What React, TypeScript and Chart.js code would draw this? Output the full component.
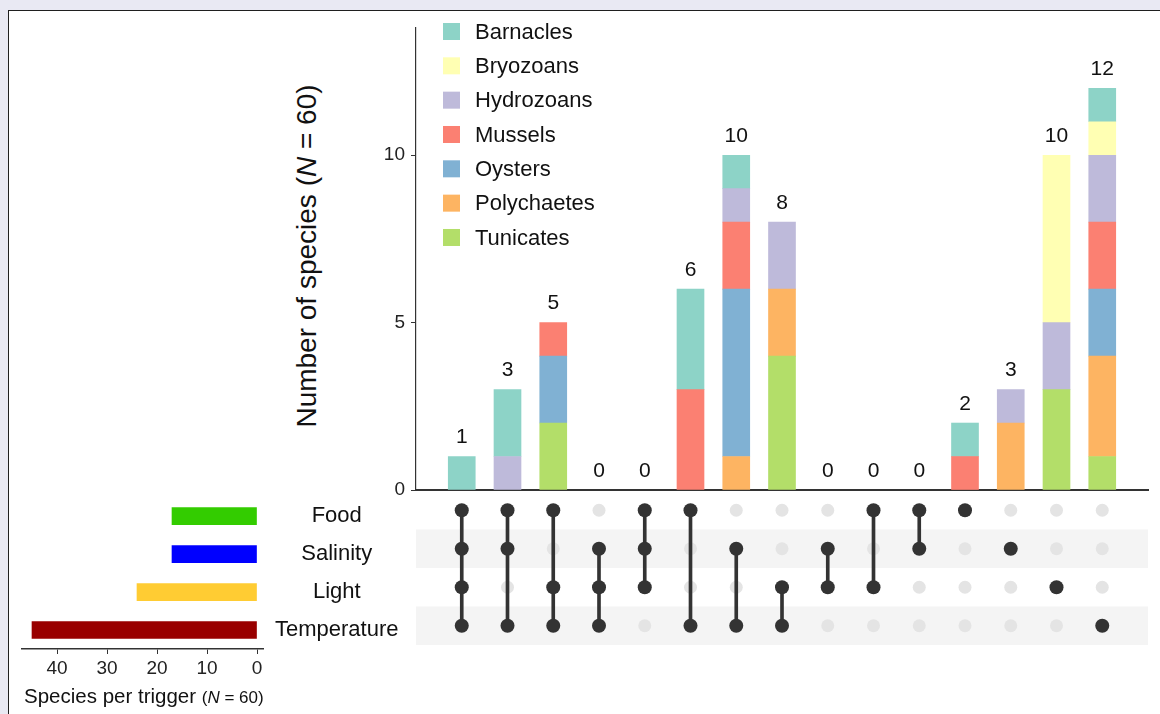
import React, { useEffect, useRef } from 'react';
import { Chart, registerables } from 'chart.js';

Chart.register(...registerables);

const FONT = "'Liberation Sans', Arial, Helvetica, sans-serif";
Chart.defaults.font.family = FONT;
Chart.defaults.color = '#1a1a1a';

// ---- data ----
const species = ['Barnacles', 'Bryozoans', 'Hydrozoans', 'Mussels', 'Oysters', 'Polychaetes', 'Tunicates'];
const speciesColors = ['#8DD3C7', '#FFFFB3', '#BEBADA', '#FB8072', '#80B1D3', '#FDB462', '#B3DE69'];

// species counts per intersection column (15 columns, left to right)
const barnacles = [1, 2, 0, 0, 0, 3, 1, 0, 0, 0, 0, 1, 0, 0, 1];
const bryozoans = [0, 0, 0, 0, 0, 0, 0, 0, 0, 0, 0, 0, 0, 5, 1];
const hydrozoans = [0, 1, 0, 0, 0, 0, 1, 2, 0, 0, 0, 0, 1, 2, 2];
const mussels = [0, 0, 1, 0, 0, 3, 2, 0, 0, 0, 0, 1, 0, 0, 2];
const oysters = [0, 0, 2, 0, 0, 0, 5, 0, 0, 0, 0, 0, 0, 0, 2];
const polychaetes = [0, 0, 0, 0, 0, 0, 1, 2, 0, 0, 0, 0, 2, 0, 3];
const tunicates = [0, 0, 2, 0, 0, 0, 0, 4, 0, 0, 0, 0, 0, 3, 1];
const speciesSeries = [barnacles, bryozoans, hydrozoans, mussels, oysters, polychaetes, tunicates];

const triggers = ['Food', 'Salinity', 'Light', 'Temperature'];
const triggerSizes = [17, 17, 24, 45];
const triggerColors = ['#33CC00', '#0000FF', '#FFCC33', '#990000'];

const intersections = [
  ['Food', 'Salinity', 'Light', 'Temperature'],
  ['Food', 'Salinity', 'Temperature'],
  ['Food', 'Light', 'Temperature'],
  ['Salinity', 'Light', 'Temperature'],
  ['Food', 'Salinity', 'Light'],
  ['Food', 'Temperature'],
  ['Salinity', 'Temperature'],
  ['Light', 'Temperature'],
  ['Salinity', 'Light'],
  ['Food', 'Light'],
  ['Food', 'Salinity'],
  ['Food'],
  ['Salinity'],
  ['Light'],
  ['Temperature'],
];

const mainYTicks = [0, 5, 10];
const setXTicks = [0, 10, 20, 30, 40];

// ---- plugins ----
const countLabels = {
  id: 'countLabels',
  afterDatasetsDraw(chart: any) {
    const { ctx } = chart;
    const xs = chart.scales.x;
    const ys = chart.scales.y;
    ctx.save();
    ctx.font = `21px ${FONT}`;
    ctx.fillStyle = '#111';
    ctx.textAlign = 'center';
    ctx.textBaseline = 'middle';
    intersections.forEach((_, i) => {
      const total = speciesSeries.reduce((s, arr) => s + arr[i], 0);
      ctx.fillText(String(total), xs.getPixelForValue(i + 1), ys.getPixelForValue(total) - 19);
    });
    ctx.restore();
  },
};

const speciesLegend = {
  id: 'speciesLegend',
  afterDraw(chart: any) {
    const { ctx, chartArea } = chart;
    ctx.save();
    ctx.font = `22px ${FONT}`;
    ctx.textAlign = 'left';
    ctx.textBaseline = 'middle';
    species.forEach((name, i) => {
      const cy = chartArea.top + 3.5 + i * 34.33;
      const x = chartArea.left + 27;
      ctx.fillStyle = speciesColors[i];
      ctx.fillRect(x, cy - 8.5, 17, 17);
      ctx.fillStyle = '#111';
      ctx.fillText(name, x + 32, cy + 1);
    });
    ctx.restore();
  },
};

const rowBands = {
  id: 'rowBands',
  beforeDatasetsDraw(chart: any) {
    const { ctx, chartArea } = chart;
    const ys = chart.scales.y;
    ctx.save();
    ctx.fillStyle = '#F4F4F4';
    triggers.forEach((_, r) => {
      if (r % 2 === 1) {
        const y1 = ys.getPixelForValue(r - 0.5);
        const y2 = ys.getPixelForValue(r + 0.5);
        ctx.fillRect(chartArea.left, Math.min(y1, y2), chartArea.right - chartArea.left, Math.abs(y2 - y1));
      }
    });
    ctx.restore();
  },
};

function mainConfig(): any {
  const datasets = species
    .map((name, k) => ({
      label: name,
      data: speciesSeries[k].map((v, i) => ({ x: i + 1, y: v === 0 ? null : v })),
      backgroundColor: speciesColors[k],
      borderWidth: 0,
      barThickness: 27,
    }))
    .reverse();
  return {
    type: 'bar',
    data: { datasets },
    plugins: [countLabels, speciesLegend],
    options: {
      animation: false,
      responsive: false,
      events: [],
      layout: { padding: { top: 28, right: 12, left: 0, bottom: 0 } },
      plugins: { legend: { display: false }, tooltip: { enabled: false } },
      scales: {
        x: {
          type: 'linear',
          min: 0,
          max: 16,
          offset: false,
          stacked: true,
          ticks: { display: false },
          grid: { display: false },
          border: { display: true, color: '#333', width: 2 },
          afterFit: (s: any) => { s.height = 30; },
        },
        y: {
          type: 'linear',
          min: 0,
          max: 13.8,
          stacked: true,
          afterBuildTicks: (s: any) => { s.ticks = mainYTicks.map((v) => ({ value: v })); },
          ticks: { font: { size: 19 }, color: '#222', padding: 6 },
          grid: { drawOnChartArea: false, drawTicks: true, tickLength: 5, color: '#333', tickColor: '#333' },
          border: { display: true, color: '#333', width: 1.2 },
          afterFit: (s: any) => { s.width = 76; },
        },
      },
    },
  };
}

function matrixConfig(): any {
  const all: any[] = [];
  const active: any[] = [];
  const links: any[] = [];
  intersections.forEach((members, c) => {
    const rows: number[] = [];
    triggers.forEach((t, r) => {
      all.push({ x: c + 1, y: r });
      if (members.includes(t)) {
        active.push({ x: c + 1, y: r });
        rows.push(r);
      }
    });
    if (rows.length > 1) links.push({ x: c + 1, y: [Math.min(...rows), Math.max(...rows)] });
  });
  return {
    type: 'scatter',
    data: {
      datasets: [
        { type: 'scatter', data: all, pointRadius: 6.5, pointBorderWidth: 0, backgroundColor: '#E4E4E4', order: 3 },
        { type: 'bar', data: links, backgroundColor: '#333', barThickness: 3, borderWidth: 0, order: 2 },
        { type: 'scatter', data: active, pointRadius: 7, pointBorderWidth: 0, backgroundColor: '#333', order: 1 },
      ],
    },
    plugins: [rowBands],
    options: {
      animation: false,
      responsive: false,
      events: [],
      layout: { autoPadding: false, padding: { top: 1, right: 12, left: 76, bottom: 15 } },
      plugins: { legend: { display: false }, tooltip: { enabled: false } },
      scales: {
        x: { type: 'linear', min: 0, max: 16, offset: false, display: false },
        y: { type: 'linear', min: -0.5, max: 3.5, reverse: true, offset: false, display: false },
      },
    },
  };
}

function setConfig(): any {
  return {
    type: 'bar',
    data: {
      labels: triggers,
      datasets: [
        { data: triggerSizes, backgroundColor: triggerColors, borderWidth: 0, barThickness: 17 },
      ],
    },
    options: {
      animation: false,
      responsive: false,
      events: [],
      indexAxis: 'y',
      layout: { padding: { top: 0, right: 0, left: 12, bottom: 0 } },
      plugins: { legend: { display: false }, tooltip: { enabled: false } },
      scales: {
        x: {
          type: 'linear',
          reverse: true,
          min: -1.2,
          max: 47,
          afterBuildTicks: (s: any) => { s.ticks = setXTicks.map((v) => ({ value: v })); },
          ticks: { font: { size: 19 }, color: '#222', padding: 3 },
          grid: { drawOnChartArea: false, drawTicks: true, tickLength: 5, color: '#333', tickColor: '#333' },
          border: { display: true, color: '#333', width: 1.5 },
          afterFit: (s: any) => { s.height = 41; },
        },
        y: {
          position: 'right',
          grid: { display: false, drawTicks: false },
          border: { display: false },
          ticks: { crossAlign: 'center', padding: 12, font: { size: 22 }, color: '#111' },
          afterFit: (s: any) => { s.width = 157; },
        },
      },
    },
  };
}

export default function App() {
  const mainRef = useRef<HTMLCanvasElement>(null);
  const matRef = useRef<HTMLCanvasElement>(null);
  const setRef = useRef<HTMLCanvasElement>(null);

  useEffect(() => {
    const charts = [
      new Chart(mainRef.current!, mainConfig()),
      new Chart(matRef.current!, matrixConfig()),
      new Chart(setRef.current!, setConfig()),
    ];
    return () => charts.forEach((c) => c.destroy());
  }, []);

  return (
    <div
      style={{
        position: 'fixed', left: 0, top: 0, width: 1160, height: 714, overflow: 'hidden',
        background: '#E9E9F3', fontFamily: FONT, color: '#111',
      }}
    >
      <div
        style={{
          position: 'absolute', left: 8, top: 10, width: 1200, height: 800,
          background: '#fff', border: '1.5px solid #1f1f1f', boxSizing: 'border-box',
        }}
      />
      <canvas ref={mainRef} width={820} height={520} style={{ position: 'absolute', left: 340, top: 0, display: 'block' }} />
      <canvas ref={matRef} width={820} height={170} style={{ position: 'absolute', left: 340, top: 490, display: 'block' }} />
      <canvas ref={setRef} width={410} height={218} style={{ position: 'absolute', left: 10, top: 472, display: 'block' }} />
      <div
        style={{
          position: 'absolute', left: 307, top: 255.5, transform: 'translate(-50%, -50%) rotate(-90deg)',
          fontSize: 28, lineHeight: '28px', whiteSpace: 'nowrap',
        }}
      >
        Number of species (<i>N</i> = 60)
      </div>
      <div
        style={{
          position: 'absolute', left: 24, top: 686, fontSize: 20.5, lineHeight: '20px', whiteSpace: 'nowrap',
        }}
      >
        Species per trigger <span style={{ fontSize: 17 }}>(<i>N</i> = 60)</span>
      </div>
    </div>
  );
}
